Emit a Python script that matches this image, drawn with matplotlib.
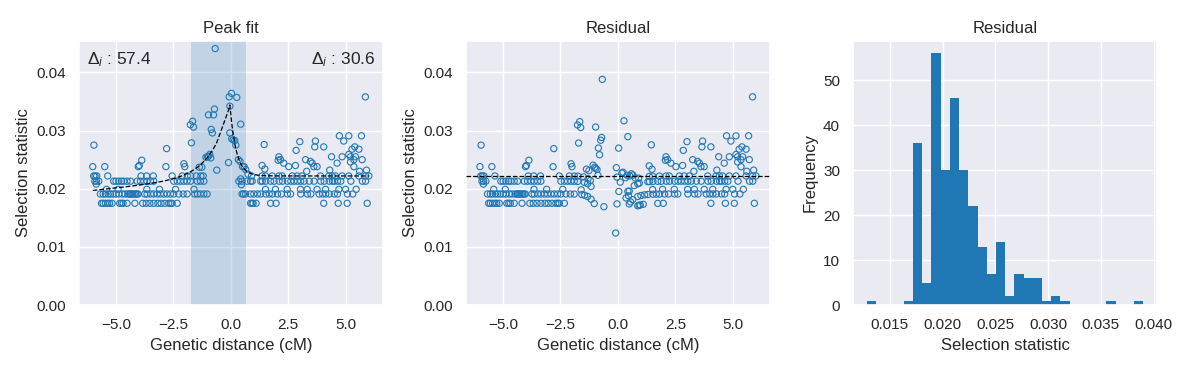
import numpy as np
import matplotlib
matplotlib.use("Agg")
import matplotlib.pyplot as plt
import seaborn as sns

# --- data ------------------------------------------------------------------
# selection statistic takes a few discrete values; points grouped by level
lvl_0175_x = [-5.62, -5.55, -5.45, -5.35, -5.27, -5.16, -4.83, -4.75, -4.68, -4.51,
              -4.17, -3.83, -3.68, -3.52, -3.35, -3.17, -3.03, -2.87, -2.70, -2.62,
              -2.55, -2.33, 0.86, 0.92, 0.97, 1.10, 1.73, 1.97, 4.04, 4.67, 5.06, 5.93]
lvl_0191_x = [-5.67, -5.55, -5.45, -5.33, -5.23, -5.12, -4.99, -4.87, -4.72, -4.60,
              -4.47, -4.40, -4.36, -4.30, -4.26, -4.20, -4.14, -4.08, -4.03, -3.74,
              -3.64, -3.49, -3.35, -3.20, -3.06, -2.91, -2.77, -2.62, -2.48, -2.26,
              -2.07, -1.90, -1.57, -1.45, -1.32, -1.17, -1.03,
              0.49, 0.55, 0.64, 0.86, 1.00, 1.16, 1.30, 1.52, 1.67, 1.81, 2.03, 2.20,
              2.46, 2.60, 3.04, 3.33, 3.48, 3.84, 3.99, 4.13, 4.28, 4.50, 4.64, 5.07, 5.30]
lvl_0199_x = [-5.40, -4.90, -3.65, -3.10, -2.40, -1.60,
              1.51, 1.94, 2.45, 3.03, 3.32, 3.75, 4.12, 4.70, 4.99, 5.45]
lvl_0213_x = [-5.91, -5.84, -5.74, -5.09, -4.99, -4.87, -4.75, -4.65, -4.51, -4.36,
              -4.07, -3.93, -3.78, -3.64, -3.49, -3.35, -2.48, -2.33, -2.19, -2.04,
              -1.90, -1.75, -1.46, -1.32, -1.17,
              0.35, 0.49, 0.71, 0.86, 0.93, 1.30, 1.37, 1.52, 1.73, 1.88, 2.10, 2.25,
              2.46, 2.61, 2.75, 2.90, 3.04, 3.19, 3.41, 3.62, 3.91, 4.06, 4.28, 4.42,
              4.50, 4.64, 4.78, 5.22, 5.72, 5.86]
lvl_0222_x = [-5.96, -5.90, -5.83, -5.35, -3.90, -3.66, -3.37, -2.55, -2.11, -1.89,
              -1.74, -1.50, -1.30, -1.20,
              1.36, 1.51, 1.80, 2.09, 2.23, 2.67, 2.88, 3.10, 3.90, 4.26, 4.41, 4.55,
              4.84, 5.13, 5.57, 5.86, 6.00]
other_x = [-6.00, -5.95, -5.48, -5.85, -4.02, -3.98, -3.87, -2.82, -2.79, -2.04, -2.00,
           -1.76, -1.66, -1.62, -1.71, -1.37, -1.26, -1.08, -1.01, -0.97, -0.91, -0.87,
           -0.97, -0.75, -0.71, -0.85, -0.80, -0.68, -0.61, -0.10, -0.07, 0.03, 0.26,
           -0.04, -0.04, 0.04, 0.10, 0.17, 0.22, 0.43, 0.33, 0.40, 0.51, 0.58, 0.43, 0.46,
           0.65, 0.75, 0.90, 1.36, 1.48, 1.45,
           2.09, 2.16, 2.06, 2.30, 2.52, 2.81, 2.84, 3.00, 3.25, 3.46, 3.54, 3.61, 3.75,
           3.68, 3.65, 4.04, 4.38, 4.62, 4.84, 4.72, 4.91, 5.13, 5.20, 5.27, 5.35, 5.39,
           5.42, 5.57, 5.68, 5.71, 5.35, 5.13, 5.20, 5.85, 5.90, 5.60, 4.30, 3.30]
other_y = [0.0238, 0.0275, 0.0238, 0.0208, 0.0238, 0.0240, 0.0249, 0.0238, 0.0269, 0.0243, 0.0238,
           0.0310, 0.0316, 0.0306, 0.0279, 0.0237, 0.0237, 0.0254, 0.0255, 0.0256, 0.0259, 0.0253,
           0.0327, 0.0327, 0.0337, 0.0302, 0.0296, 0.0441, 0.0232, 0.0245, 0.0358, 0.0364, 0.0357,
           0.0342, 0.0296, 0.0286, 0.0284, 0.0283, 0.0275, 0.0311, 0.0250, 0.0247, 0.0238, 0.0238, 0.0217, 0.0207,
           0.0233, 0.0225, 0.0222, 0.0240, 0.0234, 0.0276,
           0.0255, 0.0250, 0.0249, 0.0244, 0.0238, 0.0240, 0.0266, 0.0281, 0.0250, 0.0247, 0.0244, 0.0238, 0.0238,
           0.0282, 0.0272, 0.0272, 0.0255, 0.0244, 0.0255, 0.0291, 0.0282, 0.0291, 0.0255, 0.0268, 0.0250, 0.0272,
           0.0255, 0.0268, 0.0291, 0.0250, 0.0238, 0.0259, 0.0246, 0.0358, 0.0232, 0.0230, 0.0232, 0.0230]

# fitted peak model (dashed line): sloped baseline on the left, flat on the right
peak_x = -0.04
peak_y = 0.0344
base_start_x = -6.0
base_start_y = 0.0197
base_right = 0.0222
decay_left = 0.80
decay_right = 0.27
# peak shape removed for the residual panel
resid_sigma_left = 0.70
peak_left_edge = -1.74
peak_right_edge = 0.65
delta_left = 57.4
delta_right = 30.6

# residual histogram counts (30 bins)
hist_counts = [1, 0, 0, 0, 1, 36, 5, 56, 30, 46, 30, 22, 13, 7, 14,
               2, 7, 6, 6, 1, 2, 1, 0, 0, 0, 0, 1, 0, 0, 1]
hist_lo, hist_hi = 0.01285, 0.0390

BLUE = "#1f77b4"

# --- assemble ----------------------------------------------------------------
levels = [(lvl_0175_x, 0.0175), (lvl_0191_x, 0.0191), (lvl_0199_x, 0.0199),
          (lvl_0213_x, 0.0213), (lvl_0222_x, 0.0222)]
x = np.concatenate([np.array(v) for v, _ in levels] + [np.array(other_x)])
y = np.concatenate([np.full(len(v), lv) for v, lv in levels] + [np.array(other_y)])
amp = peak_y - base_right


def fit_curve(xx):
    xx = np.asarray(xx, dtype=float)
    left = xx < peak_x
    frac = np.clip((peak_x - xx) / (peak_x - base_start_x), 0, 1)
    base = np.where(left, base_right + (base_start_y - base_right) * frac, base_right)
    rate = np.where(left, decay_left, decay_right)
    return base + amp * np.exp(-np.abs(xx - peak_x) / rate)


def peak_component(xx):
    xx = np.asarray(xx, dtype=float)
    d = xx - peak_x
    return np.where(d < 0,
                    amp * np.exp(-(d / resid_sigma_left) ** 2),
                    amp * np.exp(-np.abs(d) / decay_right))


resid = y - peak_component(x)
x_line = np.sort(np.append(x, peak_x))

# --- plot ----------------------------------------------------------------------
sns.set_theme(style="darkgrid")
plt.rcParams["font.family"] = ["Liberation Sans", "DejaVu Sans"]
plt.rcParams["mathtext.fontset"] = "custom"
plt.rcParams["mathtext.rm"] = "Liberation Sans"
plt.rcParams["mathtext.it"] = "Liberation Sans:italic"

fig, axes = plt.subplots(1, 3, figsize=(11.91, 3.68), dpi=100)
fig.subplots_adjust(left=0.0663, right=0.9714, bottom=0.171, top=0.889, wspace=0.275)
ax1, ax2, ax3 = axes

scatter_kw = dict(s=20, facecolors="none", edgecolors=BLUE, linewidths=0.8, zorder=3)

ax1.axvspan(peak_left_edge, peak_right_edge, color=BLUE, alpha=0.2, lw=0, zorder=1)
ax1.scatter(x, y, **scatter_kw)
ax1.plot(x_line, fit_curve(x_line), color="black", ls="--", lw=0.9, zorder=4)
ax1.set_ylim(bottom=0)
ax1.set_title("Peak fit")
ax1.set_xlabel("Genetic distance (cM)")
ax1.set_ylabel("Selection statistic")
ax1.text(0.025, 0.965, rf"$\Delta_i$ : {delta_left}", transform=ax1.transAxes,
         ha="left", va="top", fontsize=12.5)
ax1.text(0.975, 0.965, rf"$\Delta_i$ : {delta_right}", transform=ax1.transAxes,
         ha="right", va="top", fontsize=12.5)

ax2.scatter(x, resid, **scatter_kw)
ax2.axhline(base_right, color="black", ls="--", lw=0.9, zorder=4)
ax2.set_xlim(ax1.get_xlim())
ax2.set_ylim(ax1.get_ylim())
ax2.set_title("Residual")
ax2.set_xlabel("Genetic distance (cM)")
ax2.set_ylabel("Selection statistic")

edges = np.linspace(hist_lo, hist_hi, len(hist_counts) + 1)
ax3.hist(edges[:-1], bins=edges, weights=hist_counts, color=BLUE, linewidth=0)
ax3.set_title("Residual")
ax3.set_xlabel("Selection statistic")
ax3.set_ylabel("Frequency")

fig.savefig("out.png", dpi=100)
